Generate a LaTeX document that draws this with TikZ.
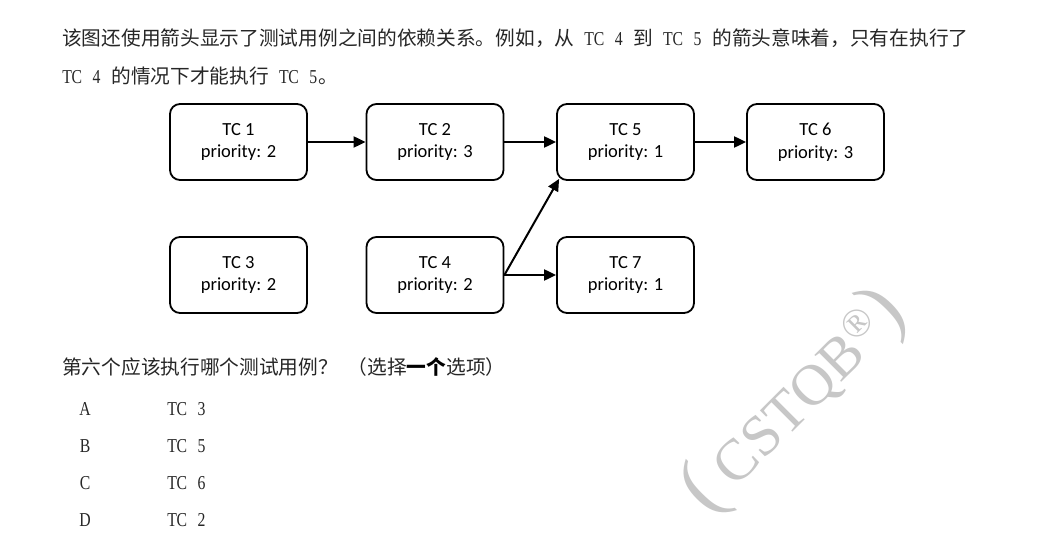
\documentclass[tikz,border=0pt]{standalone}
\usepackage{fontspec}
\setmainfont{Noto Sans CJK SC}
\newfontfamily\boxfont{Carlito}
\newfontfamily\wmfont{Liberation Serif}
\newfontfamily\latfont[FakeStretch=0.8]{Liberation Serif}
\usetikzlibrary{arrows.meta}
\newcommand\hc[1]{\makebox[9.85pt]{\latfont\fontsize{19.7}{20}\selectfont #1}}
\newcommand\hs{\hspace*{9.85pt}}
\tikzset{
  txt/.style={anchor=base west, inner sep=0pt, font=\fontsize{19.7}{20}\selectfont, text=black!85},
  tcbox/.style={draw, line width=1.8pt, rounded corners=10pt, minimum width=137pt, minimum height=76pt,
    align=center, inner sep=0pt, font=\boxfont\fontsize{18.5}{22.5}\selectfont},
  dep/.style={line width=2pt, -{Triangle[length=12pt,width=11pt]}},
  wm/.style={rotate=45, text=black!22, inner sep=0pt, font=\wmfont\fontsize{58}{60}\selectfont}
}
\begin{document}
\begin{tikzpicture}[x=1pt,y=-1pt]
\useasboundingbox (0,0) rectangle (1048,556);
% watermark
\node[wm] (wmk) at (795,402)
  {{\fontsize{80}{80}\selectfont(}\hspace{0.2em}CSTQB\raisebox{0.3em}{\fontsize{40}{40}\selectfont ®}{\fontsize{80}{80}\selectfont)}};
% text
\node[txt] (l1) at (62,46) {该图还使用箭头显示了测试用例之间的依赖关系。例如，从\hs\hc{T}\hc{C}\hs\hc{4}\hs 到\hs\hc{T}\hc{C}\hs\hc{5}\hs 的箭头意味着，只有在执行了};
\node[txt] (l2) at (62,84) {\hc{T}\hc{C}\hs\hc{4}\hs 的情况下才能执行\hs\hc{T}\hc{C}\hs\hc{5}。};
% boxes
\node[tcbox] (tc1) at (238.5,142) {TC 1\\priority: 2};
\node[tcbox] (tc2) at (435,142) {TC 2\\priority: 3};
\node[tcbox] (tc5) at (625.5,142) {TC 5\\priority: 1};
\node[tcbox] (tc6) at (815.5,142) {TC 6\\priority: 3};
\node[tcbox] (tc3) at (238.5,275) {TC 3\\priority: 2};
\node[tcbox] (tc4) at (435,275) {TC 4\\priority: 2};
\node[tcbox] (tc7) at (625.5,275) {TC 7\\priority: 1};
\draw[dep] (tc1.east) -- (tc2.west);
\draw[dep] (tc2.east) -- (tc5.west);
\draw[dep] (tc5.east) -- (tc6.west);
\draw[dep] (tc4.east) -- (tc7.west);
\draw[dep] (tc4.east) -- ([xshift=3pt,yshift=2pt]tc5.south west);
% question
\node[txt] (q) at (62,374) {第六个应该执行哪个测试用例？\hs（选择{\color{black}\bfseries 一个}选项）};
\node[txt] (oa) at (80,415) {\hc{A}};
\node[txt] (ta) at (167,415) {\hc{T}\hc{C}\hs\hc{3}};
\node[txt] (ob) at (80,452) {\hc{B}};
\node[txt] (tb) at (167,452) {\hc{T}\hc{C}\hs\hc{5}};
\node[txt] (oc) at (80,489) {\hc{C}};
\node[txt] (tcc) at (167,489) {\hc{T}\hc{C}\hs\hc{6}};
\node[txt] (od) at (80,526) {\hc{D}};
\node[txt] (td) at (167,526) {\hc{T}\hc{C}\hs\hc{2}};
\end{tikzpicture}
\end{document}
